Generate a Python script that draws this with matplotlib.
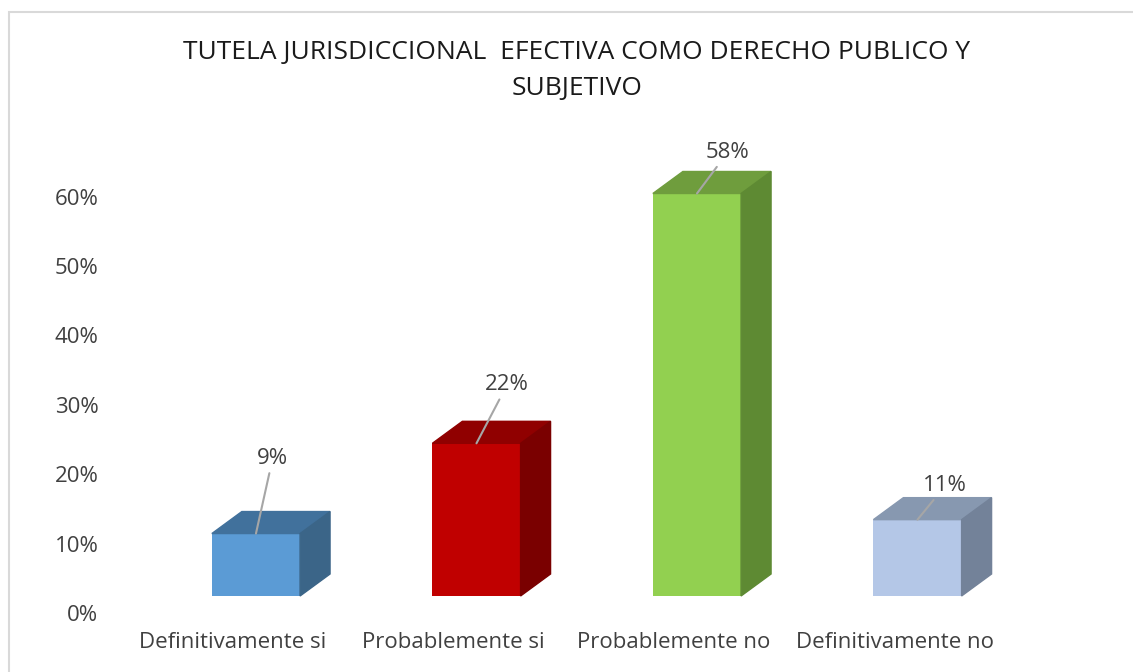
import numpy as np
import matplotlib.pyplot as plt
from matplotlib.patches import Polygon, Rectangle

# ====== data ======
categorias = ["Definitivamente si", "Probablemente si", "Probablemente no", "Definitivamente no"]
valores = [9, 22, 58, 11]
etiquetas = ["9%", "22%", "58%", "11%"]
ticks_y = [0, 10, 20, 30, 40, 50, 60]

# ====== style ======
frente = ["#5B9BD5", "#C00000", "#92D050", "#B4C7E7"]
arriba = ["#41719C", "#900000", "#6F9D3D", "#8798B0"]
lado = ["#3B6588", "#7A0000", "#5E8A33", "#738299"]
# label offsets (points) from top of each bar, moved by hand in the original
off_lbl = [(12, 54), (22, 42), (22, 29.5), (20, 24.5)]

piso = 2.45          # floor lift of the 3D box
ancho = 0.4
dx, dy = 0.136, 3.17  # depth of the box
gris = "#404040"
plt.rcParams['font.family'] = ['Open Sans', 'DejaVu Sans']

fig = plt.figure(figsize=(11.33, 6.72), dpi=100)
ax = fig.add_axes([0.1286, 0.0878, 0.7785, 0.7229])
ax.set_xlim(-0.5, 3.5)
ax.set_ylim(0, 70)

x = np.arange(len(valores))
ax.bar(x, valores, width=ancho, bottom=piso, color=frente, zorder=2)

for i, v in enumerate(valores):
    xl, xr = i - ancho / 2, i + ancho / 2
    b, t = piso, piso + v
    ax.add_patch(Polygon([(xl, t), (xr, t), (xr + dx, t + dy), (xl + dx, t + dy)],
                         closed=True, color=arriba[i], zorder=2))
    ax.add_patch(Polygon([(xr, b), (xr + dx, b + dy), (xr + dx, t + dy), (xr, t)],
                         closed=True, color=lado[i], zorder=2))
    ax.annotate(etiquetas[i], xy=(i, t), xytext=off_lbl[i], textcoords='offset points',
                ha='center', va='center', fontsize=16, color=gris, zorder=4,
                arrowprops=dict(arrowstyle='-', color='#A6A6A6', lw=1.5,
                                shrinkA=1, shrinkB=0))

ax.set_yticks(ticks_y)
ax.set_yticklabels([str(t) + "%" for t in ticks_y])
ax.set_xticks(x - 0.104)
ax.set_xticklabels(categorias)
ax.tick_params(axis='y', length=0, pad=34, labelsize=16, labelcolor=gris)
ax.tick_params(axis='x', length=0, pad=13.5, labelsize=16, labelcolor=gris)
for s in ax.spines.values():
    s.set_visible(False)

fig.text(0.509, 0.922, "TUTELA JURISDICCIONAL  EFECTIVA COMO DERECHO PUBLICO Y",
         ha='center', va='center', fontsize=19, color='#1a1a1a')
fig.text(0.509, 0.868, "SUBJETIVO", ha='center', va='center', fontsize=19, color='#1a1a1a')

# chart frame
fig.patches.append(Rectangle((9 / 1133, -0.1), 1.2, 1.1 - 12 / 672, transform=fig.transFigure,
                             fill=False, edgecolor='#D9D9D9', lw=1.5))

fig.savefig("out.png", dpi=100)
